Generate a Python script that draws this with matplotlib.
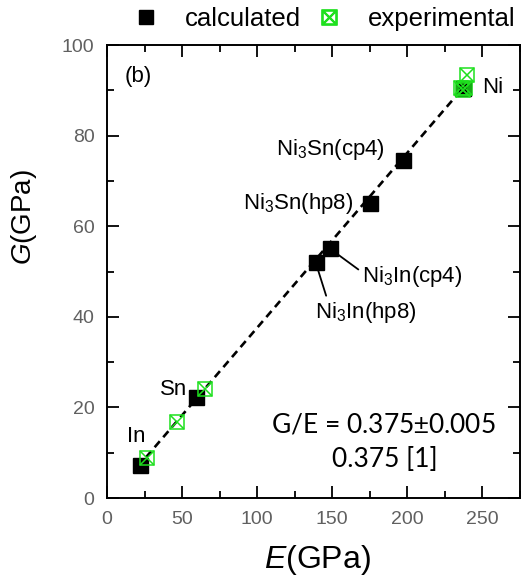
import numpy as np
import matplotlib.pyplot as plt
from matplotlib.lines import Line2D
from matplotlib.ticker import MultipleLocator

plt.rcParams['font.family'] = ['Liberation Sans', 'DejaVu Sans']
plt.rcParams['mathtext.fontset'] = 'custom'
plt.rcParams['mathtext.rm'] = 'Liberation Sans'
plt.rcParams['mathtext.it'] = 'Liberation Sans:italic'

# calculated values (E, G in GPa)
calc_names = ['In', 'Sn', 'Ni3In(hp8)', 'Ni3In(cp4)', 'Ni3Sn(hp8)', 'Ni3Sn(cp4)', 'Ni']
calc_E = [22.3, 59.0, 139.0, 148.3, 175.0, 197.0, 237.0]
calc_G = [7.2, 22.2, 52.0, 55.1, 65.2, 74.7, 90.5]

# experimental values
exp_E = [26.4, 46.5, 65.3, 236.0, 237.3, 238.7, 240.0]
exp_G = [8.8, 16.8, 24.0, 90.5, 90.1, 90.5, 93.4]

# fitted line G/E
fit_E = [26.0, 237.0]
fit_G = [9.0, 90.5]

green = '#1ee01e'

fig = plt.figure(figsize=(5.23, 5.78), dpi=100)
ax = fig.add_axes([0.2046, 0.1384, 0.7894, 0.7836])

ax.plot(fit_E, fit_G, color='black', lw=1.9, dashes=(3, 2), zorder=2)
ax.plot(calc_E, calc_G, ls='none', marker='s', ms=10.8, color='black', zorder=3)
ax.plot(exp_E, exp_G, ls='none', marker='s', ms=9.5, mfc='none', mec=green, mew=1.1, zorder=4)
ax.plot(exp_E, exp_G, ls='none', marker='x', ms=9.5, mec=green, mew=1.1, zorder=4)

ax.set_xlim(0, 275)
ax.set_ylim(0, 100)
ax.xaxis.set_major_locator(MultipleLocator(50))
ax.xaxis.set_minor_locator(MultipleLocator(25))
ax.yaxis.set_major_locator(MultipleLocator(20))
ax.yaxis.set_minor_locator(MultipleLocator(10))
ax.tick_params(which='both', direction='in', top=True, right=True, width=1.3,
               labelsize=14, labelcolor='#606060', pad=9)
ax.tick_params(which='major', length=8.5)
ax.tick_params(which='minor', length=5)
for s in ax.spines.values():
    s.set_linewidth(1.4)

ax.set_xlabel('$E$(GPa)', fontsize=23)
ax.xaxis.set_label_coords(0.51, -0.1)
ax.set_ylabel('$G$(GPa)', fontsize=20)
ax.yaxis.set_label_coords(-0.165, 0.62)

fs = 16
ax.text(12, 93, '(b)', fontsize=fs, va='center')
ax.text(250, 90.7, 'Ni', fontsize=fs, va='center')
ax.text(185.3, 77, 'Ni$_3$Sn(cp4)', fontsize=fs, va='center', ha='right')
ax.text(164, 65.1, 'Ni$_3$Sn(hp8)', fontsize=fs, va='center', ha='right')
ax.text(53.3, 24, 'Sn', fontsize=fs, va='center', ha='right')
ax.text(13.3, 13.5, 'In', fontsize=fs, va='center')
ax.annotate('Ni$_3$In(cp4)', xy=(calc_E[3], calc_G[3]), xytext=(170, 49),
            fontsize=fs, va='center',
            arrowprops=dict(arrowstyle='-', lw=1.3, color='black', relpos=(0, 0.65),
                            shrinkA=1, shrinkB=0))
ax.annotate('Ni$_3$In(hp8)', xy=(calc_E[2], calc_G[2]), xytext=(138.7, 41),
            fontsize=fs, va='center',
            arrowprops=dict(arrowstyle='-', lw=1.3, color='black', relpos=(0.12, 1),
                            shrinkA=1, shrinkB=0))

ax.text(184, 16.1, 'G/E = 0.375$\\pm$0.005', fontsize=19, family='Lato',
        ha='center', va='center')
ax.text(185, 8.4, '0.375 [1]', fontsize=19, family='Lato', ha='center', va='center')

handles = [Line2D([], [], ls='none', marker='s', ms=9.5, color='black'),
           Line2D([], [], ls='none', marker=r'$\boxtimes$', ms=11, color=green)]
ax.legend(handles, ['calculated', 'experimental'], ncol=2, frameon=False,
          loc='center', bbox_to_anchor=(0.527, 1.057), fontsize=18.5,
          handlelength=1.0, handletextpad=1.0, columnspacing=0.6, borderaxespad=0)

fig.savefig('out.png', dpi=100)
